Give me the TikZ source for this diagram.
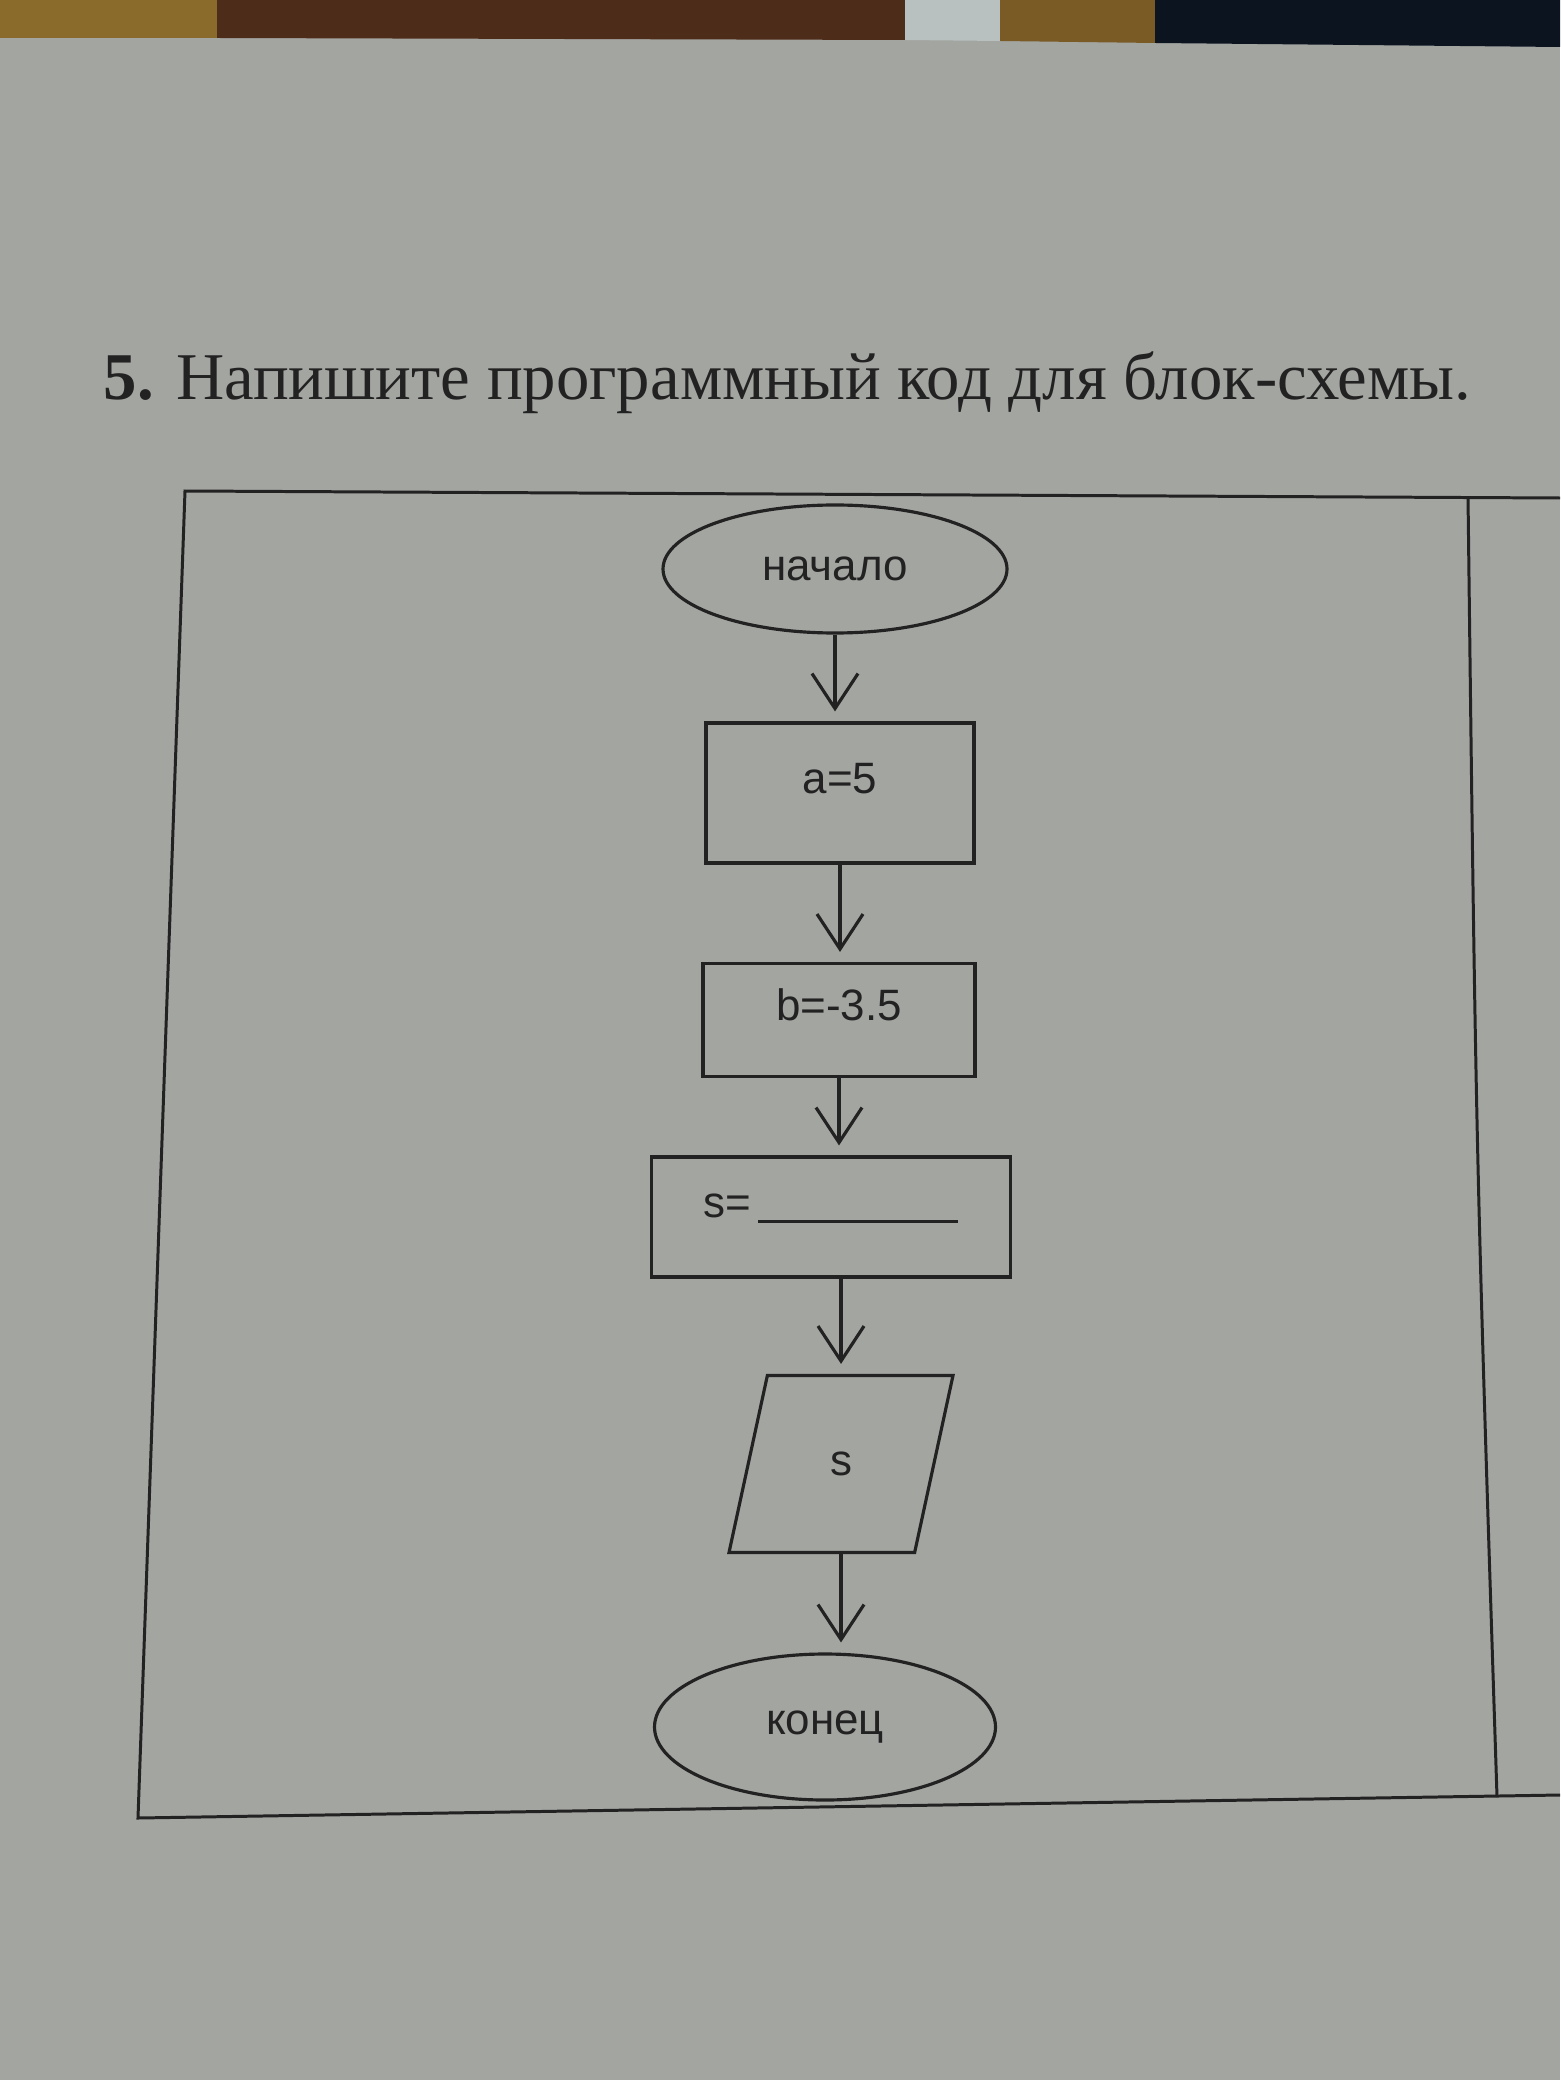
\documentclass[tikz,border=0pt]{standalone}
\usepackage{fontspec}
\setmainfont{Liberation Serif}
\newfontfamily\flowfont{Liberation Sans}
\usetikzlibrary{positioning,arrows.meta,shapes.geometric}
\definecolor{paper}{HTML}{A3A5A1}
\definecolor{ink}{HTML}{222222}
\definecolor{woodlt}{HTML}{8B6B2B}
\definecolor{wooddk}{HTML}{4D2D1A}
\definecolor{plastic}{HTML}{B8C0C0}
\definecolor{woodmd}{HTML}{7A5A25}
\definecolor{navy}{HTML}{0C1420}

\begin{document}
\begin{tikzpicture}[
    x=0.1mm, y=-0.1mm,
    font=\flowfont\fontsize{12.5pt}{14pt}\selectfont,
    term/.style={ellipse, draw=ink, line width=0.9pt, text=ink, inner sep=0pt},
    proc/.style={rectangle, draw=ink, line width=0.9pt, text=ink, text height=3mm, text depth=3mm},
    io/.style={trapezium, trapezium left angle=76, trapezium right angle=104,
               trapezium stretches=true, draw=ink, line width=0.9pt, text=ink},
    frame/.style={ink, line width=0.85pt},
    flow/.style={-{Straight Barb[length=3.5mm,width=4.6mm]}, ink, line width=0.9pt, shorten >=1mm},
]
  % paper and the strip of table above it
  \fill[paper] (0,0) rectangle (1560,2080);
  \useasboundingbox (0,0) rectangle (1560,2080);
  \fill[woodlt]  (0,0) rectangle (217,38);
  \fill[wooddk]  (217,0) -- (905,0) -- (905,40) -- (217,38) -- cycle;
  \fill[plastic] (905,0) -- (1000,0) -- (1000,41) -- (905,40) -- cycle;
  \fill[woodmd]  (1000,0) -- (1155,0) -- (1155,43) -- (1000,41) -- cycle;
  \fill[navy]    (1155,0) -- (1560,0) -- (1560,47) -- (1155,43) -- cycle;

  % task text
  \node[anchor=base west, inner sep=0pt, text=ink,
        font=\rmfamily\fontsize{19pt}{22pt}\selectfont] (task) at (103,400)
        {\textbf{5.} Напишите программный код для блок-схемы.};

  % table frame
  \draw[frame] (1560,498) -- (185,491) -- (138,1818) -- (1560,1795);
  \draw[frame] (1468,497) .. controls (1476,1150) .. (1497,1797);

  % flowchart
  \node[term, minimum width=34.4mm, minimum height=12.8mm] (start) at (835,569) {начало};
  \node[proc, minimum width=26.8mm, minimum height=14mm] (seta) at (840,793) {a=5};
  \node[proc, minimum width=27.2mm, minimum height=11.3mm] (setb) at (839,1020) {b=-3.5};
  \node[proc, minimum width=35.9mm, minimum height=12mm] (sets) at (831,1217)
        {s=\,\rule[-0.6mm]{20mm}{0.35mm}};
  \node[io, minimum width=22.4mm, minimum height=17.7mm] (outs) at (841,1464) {s};
  \node[term, minimum width=34.1mm, minimum height=14.6mm] (stop) at (825,1727) {конец};

  \draw[flow] (start.south) -- (start.south |- seta.north);
  \draw[flow] (seta.south) -- (seta.south |- setb.north);
  \draw[flow] (setb.south) -- (setb.south |- sets.north);
  \draw[flow] (outs.north |- sets.south) -- (outs.north);
  \draw[flow] (outs.south) -- (outs.south |- stop.north);
\end{tikzpicture}
\end{document}
